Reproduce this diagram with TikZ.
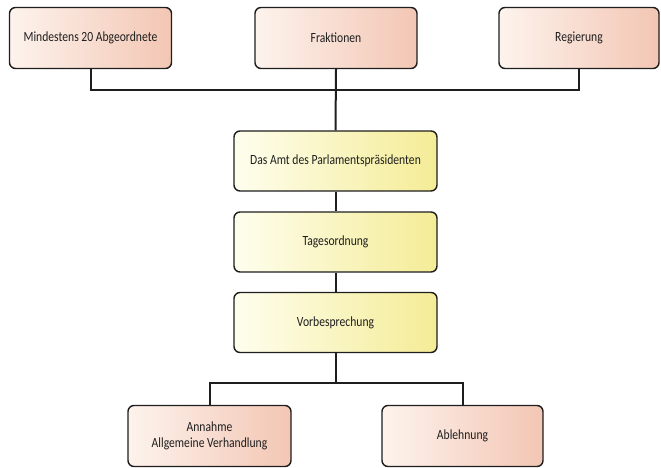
\documentclass[tikz,border=0pt]{standalone}
\usepackage{fontspec}
\setmainfont[FakeStretch=0.83]{Carlito}
\definecolor{boxline}{RGB}{30,30,30}
\definecolor{roseleft}{RGB}{253,243,237}
\definecolor{roseright}{RGB}{243,198,180}
\definecolor{yellowleft}{RGB}{254,254,238}
\definecolor{yellowright}{RGB}{244,236,150}
\definecolor{labeltext}{RGB}{30,30,30}
\tikzset{
  rosebox/.style={draw=boxline,line width=1.4pt,rounded corners=6pt,left color=roseleft,right color=roseright,
    minimum width=162pt,minimum height=61pt,align=center,text=labeltext,font=\fontsize{14}{16}\selectfont},
  yellowbox/.style={rosebox,left color=yellowleft,right color=yellowright,minimum width=203pt,minimum height=60pt},
  wire/.style={draw=boxline,line width=2pt}
}
\begin{document}
\begin{tikzpicture}[x=1pt,y=-1pt]
\path[use as bounding box] (0,0) rectangle (661,468);
% top row
\node[rosebox] (abgeordnete) at (90.5,38) {Mindestens 20 Abgeordnete};
\node[rosebox] (fraktionen) at (336,38) {Fraktionen};
\node[rosebox,minimum width=160pt] (regierung) at (579,38) {Regierung};
% middle column
\node[yellowbox] (amt) at (335.5,161) {Das Amt des Parlamentspr\"asidenten};
\node[yellowbox] (tagesordnung) at (335.5,242) {Tagesordnung};
\node[yellowbox] (vorbesprechung) at (335.5,322.5) {Vorbesprechung};
% bottom row
\node[rosebox,minimum width=163pt] (annahme) at (209.5,436) {Annahme\\Allgemeine Verhandlung};
\node[rosebox,minimum width=161pt] (ablehnung) at (462.5,436) {Ablehnung};
% connectors
\draw[wire] (abgeordnete.south) -- ++(0,21) -| (regierung.south);
\draw[wire] (fraktionen.south) -- (amt.north);
\draw[wire] (amt.south) -- (tagesordnung.north);
\draw[wire] (tagesordnung.south) -- (vorbesprechung.north);
\draw[wire] (vorbesprechung.south) -- ++(0,30) -| (annahme.north);
\draw[wire] (vorbesprechung.south) ++(0,30) -| (ablehnung.north);
\end{tikzpicture}
\end{document}
